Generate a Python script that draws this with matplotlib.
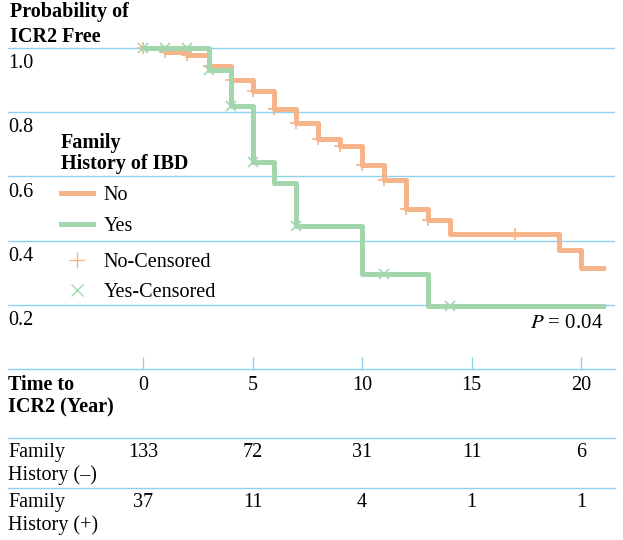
import numpy as np
import matplotlib
matplotlib.use("Agg")
import matplotlib.pyplot as plt
from matplotlib.lines import Line2D

plt.rcParams['font.family'] = ['Liberation Serif', 'DejaVu Serif']
plt.rcParams['mathtext.fontset'] = 'stix'

# Kaplan-Meier steps
no_t = [0, 1, 2, 3, 4, 5, 6, 7, 8, 9, 10, 11, 12, 13, 14, 19, 20, 21]
no_s = [1.0, 0.987, 0.978, 0.944, 0.90, 0.866, 0.81, 0.766, 0.716, 0.694,
        0.634, 0.59, 0.50, 0.463, 0.422, 0.372, 0.316, 0.316]
yes_t = [0, 3, 4, 5, 6, 7, 10, 13, 21]
yes_s = [1.0, 0.93, 0.82, 0.644, 0.578, 0.447, 0.297, 0.197, 0.197]

# censored marks
no_cens_t = [0, 1, 2, 3, 4, 5, 6, 7, 8, 9, 10, 11, 12, 13, 17]
no_cens_s = [1.0, 0.987, 0.978, 0.944, 0.90, 0.866, 0.81, 0.766, 0.716, 0.694,
             0.634, 0.59, 0.50, 0.463, 0.422]
yes_cens_t = [0, 1, 2, 3, 4, 5, 7, 11, 14]
yes_cens_s = [1.0, 1.0, 1.0, 0.93, 0.82, 0.644, 0.447, 0.297, 0.197]

yticks = [0.2, 0.4, 0.6, 0.8, 1.0]
xticks = [0, 5, 10, 15, 20]
at_risk_no = [133, 72, 31, 11, 6]
at_risk_yes = [37, 11, 4, 1, 1]

orange = '#f5b48a'
green = '#a3d6ad'
grid = '#8ed1ef'
fs = 14.5

W, H = 623, 540
fig = plt.figure(figsize=(W / 100, H / 100), dpi=100)
# axes spans pixel x 8..615, y 0..369 (value 0 at pixel 369)
ax = fig.add_axes([8 / W, 1 - 369 / H, (615 - 8) / W, 369 / H])
px_per_yr = 21.9
ppv = 321.0  # pixels per unit of probability
ax.set_xlim((8 - 143) / px_per_yr, (615 - 143) / px_per_yr)
ax.set_ylim(0, 369 / ppv)
ax.axis('off')


def fy(px):
    # figure pixel row -> figure fraction
    return 1 - px / H


for v in yticks:
    ax.axhline(v, color=grid, lw=1.0, zorder=1)
    ax.annotate('%.1f' % v, xy=(8 / W, v), xycoords=('figure fraction', 'data'),
                xytext=(0, -14.6), textcoords='offset points', ha='left',
                va='baseline', fontsize=fs)
ax.axhline(0, color=grid, lw=1.0, zorder=1, clip_on=False)
ax.vlines(xticks, 0, 12 / ppv, color=grid, lw=1.0)

ax.step(no_t, no_s, where='post', color=orange, lw=3.6, zorder=3)
ax.step(yes_t, yes_s, where='post', color=green, lw=3.6, zorder=4)
ax.plot(no_cens_t, no_cens_s, ls='none', marker='+', ms=9, mew=1.2, color=orange, zorder=2)
ax.plot(yes_cens_t, yes_cens_s, ls='none', marker='x', ms=7, mew=1.2, color=green, zorder=2)

line_handles = [Line2D([], [], color=orange, lw=3.6),
                Line2D([], [], color=green, lw=3.6)]
leg1 = ax.legend(line_handles, ['No', 'Yes'],
                 title='Family\nHistory of IBD', alignment='left', frameon=False,
                 loc='upper left', bbox_to_anchor=(51 / W, fy(123)),
                 bbox_transform=fig.transFigure, fontsize=fs, handlelength=1.6,
                 handletextpad=0.5, labelspacing=0.6, borderpad=0,
                 title_fontproperties={'weight': 'bold', 'size': fs})
leg1.get_title().set_linespacing(1.05)
ax.add_artist(leg1)
cens_handles = [Line2D([], [], ls='none', marker='+', ms=11, mew=1.0, color=orange),
                Line2D([], [], ls='none', marker='x', ms=8, mew=1.0, color=green)]
ax.legend(cens_handles, ['No-Censored', 'Yes-Censored'], frameon=False,
          loc='upper left', bbox_to_anchor=(51 / W, fy(243)),
          bbox_transform=fig.transFigure, fontsize=fs, handlelength=1.6,
          handletextpad=0.5, labelspacing=0.52, borderpad=0)

fig.text(10 / W, fy(17), 'Probability of', fontsize=fs, weight='bold', ha='left', va='baseline')
fig.text(10 / W, fy(42), 'ICR2 Free', fontsize=fs, weight='bold', ha='left', va='baseline')
fig.text(603 / W, fy(328), r'$P$ = 0.04', fontsize=fs + 0.5, ha='right', va='baseline')

# number at risk table
fig.text(8 / W, fy(390), 'Time to', fontsize=fs, weight='bold', ha='left', va='baseline')
fig.text(8 / W, fy(412), 'ICR2 (Year)', fontsize=fs, weight='bold', ha='left', va='baseline')
for t in xticks:
    ax.text(t, -(390 - 369) / ppv, str(t), fontsize=fs, ha='center', va='baseline')
ax.axhline(-(438 - 369) / ppv, color=grid, lw=1.0, clip_on=False)
ax.axhline(-(488 - 369) / ppv, color=grid, lw=1.0, clip_on=False)
fig.text(8 / W, fy(457), 'Family', fontsize=fs, ha='left', va='baseline')
fig.text(8 / W, fy(480), 'History (\u2013)', fontsize=fs, ha='left', va='baseline')
fig.text(8 / W, fy(507), 'Family', fontsize=fs, ha='left', va='baseline')
fig.text(8 / W, fy(530), 'History (+)', fontsize=fs, ha='left', va='baseline')
for t, n in zip(xticks, at_risk_no):
    ax.text(t, -(457 - 369) / ppv, str(n), fontsize=fs, ha='center', va='baseline')
for t, n in zip(xticks, at_risk_yes):
    ax.text(t, -(507 - 369) / ppv, str(n), fontsize=fs, ha='center', va='baseline')

fig.savefig('out.png', dpi=100)
